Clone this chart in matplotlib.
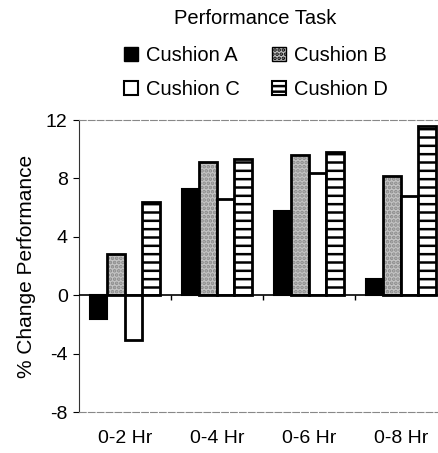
import numpy as np
import matplotlib
matplotlib.use("Agg")
import matplotlib.pyplot as plt
from matplotlib.patches import Patch

plt.rcParams['font.family'] = ['Liberation Sans', 'DejaVu Sans']
plt.rcParams['hatch.linewidth'] = 1.8
plt.rcParams['axes.unicode_minus'] = False

periods = ["0-2 Hr", "0-4 Hr", "0-6 Hr", "0-8 Hr"]
cushion_a = [-1.6, 7.3, 5.8, 1.1]
cushion_b = [2.8, 9.1, 9.6, 8.2]
cushion_c = [-3.1, 6.6, 8.4, 6.8]
cushion_d = [6.4, 9.3, 9.8, 11.6]
yticks = [-8, -4, 0, 4, 8, 12]

fig = plt.figure(figsize=(4.38, 4.53), dpi=100)
ax = fig.add_axes([0.18, 0.0905, 0.83, 0.6445])

x = np.arange(len(periods))
w = 0.19
offs = np.array([-1.5, -0.5, 0.5, 1.5]) * w

ax.bar(x + offs[0], cushion_a, w, color="black", edgecolor="black", lw=1.5)
ax.bar(x + offs[1], cushion_b, w, color="#c4c4c4", edgecolor="#8a8a8a", hatch="....", lw=0)
ax.bar(x + offs[1], cushion_b, w, color="none", edgecolor="black", lw=2)
ax.bar(x + offs[2], cushion_c, w, color="white", edgecolor="black", lw=2)
ax.bar(x + offs[3], cushion_d, w, color="white", edgecolor="black", hatch="--", lw=2)

ax.axhline(0, color="black", lw=1.2, zorder=3)
ax.vlines(x[:-1] + 0.5, -0.35, 0, color="black", lw=1)

ax.set_ylim(-8, 12)
ax.set_xlim(-0.5, 3.45)
ax.set_yticks(yticks)
ax.set_xticks(x)
ax.set_xticklabels(periods)
ax.tick_params(axis="x", length=0, pad=13, labelsize=14)
ax.tick_params(axis="y", length=4, labelsize=14, pad=4)
ax.set_ylabel("% Change Performance", fontsize=15, labelpad=7)

ax.spines["right"].set_visible(False)
ax.spines["top"].set_color("#888888")
ax.spines["top"].set_linewidth(0.8)
ax.spines["top"].set_linestyle((0, (6, 2)))
ax.spines["bottom"].set_color("#888888")
ax.spines["bottom"].set_linewidth(0.8)
ax.spines["bottom"].set_linestyle((0, (6, 2)))
ax.spines["left"].set_color("#333333")

fig.text(0.583, 0.96, "Performance Task", ha="center", va="center", fontsize=14.5)

handles = [
    Patch(facecolor="black", edgecolor="black", label="Cushion A"),
    Patch(facecolor="white", edgecolor="black", lw=1.5, label="Cushion C"),
    Patch(facecolor="#c4c4c4", edgecolor="black", hatch="....", label="Cushion B"),
    Patch(facecolor="white", edgecolor="black", hatch="---", lw=1.5, label="Cushion D"),
]
fig.legend(handles=handles, ncol=2, frameon=False, loc="center",
           bbox_to_anchor=(0.585, 0.84), fontsize=14.5, handlelength=0.7,
           handleheight=0.7, handletextpad=0.4, columnspacing=1.6,
           labelspacing=0.75)

fig.savefig("out.png", dpi=100)
